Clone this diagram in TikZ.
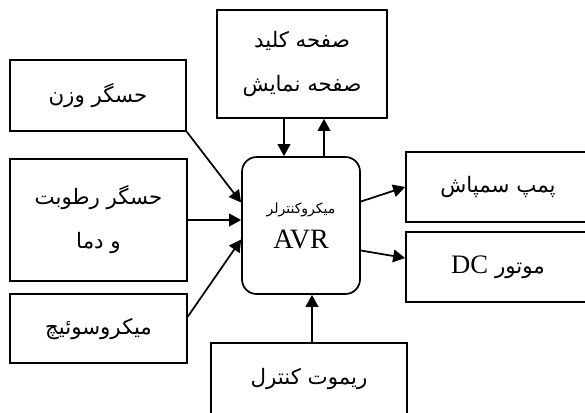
\documentclass[tikz,border=0pt]{standalone}
\usepackage{fontspec}
\setmainfont{Liberation Serif}
\newfontfamily\farsi[Script=Arabic]{DejaVu Sans}
\TeXXeTstate=1
\usetikzlibrary{arrows.meta,calc}

\newcommand{\fa}[1]{{\farsi\beginR #1\endR}}

\begin{document}
\begin{tikzpicture}[x=0.75pt,y=-0.75pt,>={Triangle[length=9pt,width=9.5pt]}]
  \tikzset{blk/.style={draw,line width=1.3pt,align=center,inner sep=0pt,font=\fontsize{16}{33}\selectfont}}
  \tikzset{cpu/.style={blk,rounded corners=11pt,text depth=0pt}}
  \tikzset{lnk/.style={->,line width=1.3pt}}
  \clip (0,0) rectangle (585,412);
  % inputs on the left
  \node[blk,minimum width=132pt,minimum height=53.25pt] (weight) at (98,95.5) {\fa{حسگر وزن}};
  \node[blk,minimum width=132.75pt,minimum height=91.5pt] (humid) at (98.5,220) {\fa{حسگر رطوبت}\\\fa{و دما}};
  \node[blk,minimum width=132.75pt,minimum height=51.75pt] (micro) at (98.5,328.5) {\fa{میکروسوئیچ}};
  % keypad and display
  \node[blk,minimum width=127.5pt,minimum height=81pt] (keypad) at (302,64) {\fa{صفحه کلید}\\\fa{صفحه نمایش}};
  % controller
  \node[cpu,minimum width=88.5pt,minimum height=102.75pt] (mcu) at (301,225.5)
    {{\farsi\fontsize{10.5}{12}\selectfont\beginR میکروکنترلر\endR}\\[-7pt]{\fontsize{21}{22}\selectfont AVR}};
  % outputs
  \node[blk,minimum width=138pt,minimum height=52.5pt] (pump) at (498,187) {\fa{پمپ سمپاش}};
  \node[blk,minimum width=138pt,minimum height=52.5pt] (dc) at (498,267) {{\farsi\beginR موتور \beginL{\fontspec{Liberation Serif}\fontsize{20}{22}\selectfont DC}\endL\endR}};
  \node[blk,minimum width=147pt,minimum height=54pt] (remote) at (309,379) {\fa{ریموت کنترل}};
  % link ends
  \coordinate (kdown) at ($(keypad.south)+(-18,0)$);
  \coordinate (kup) at ($(mcu.north)+(23,0)$);
  \coordinate (rc) at ($(remote.north)+(3,0)$);
  % links
  \draw[lnk] (weight.south east) -- ($(mcu.west)+(0,-23)$);
  \draw[lnk] (humid.east) -- (humid.east -| mcu.west);
  \draw[lnk] ($(micro.east)+(0,-12)$) -- ($(mcu.west)+(0,14)$);
  \draw[lnk] (kdown) -- (kdown |- mcu.north);
  \draw[lnk] (kup) -- (kup |- keypad.south);
  \draw[lnk] ($(mcu.east)+(0,-24)$) -- (pump.west);
  \draw[lnk] ($(mcu.east)+(0,25)$) -- ($(dc.west)+(0,-9)$);
  \draw[lnk] (rc) -- (rc |- mcu.south);
\end{tikzpicture}
\end{document}
